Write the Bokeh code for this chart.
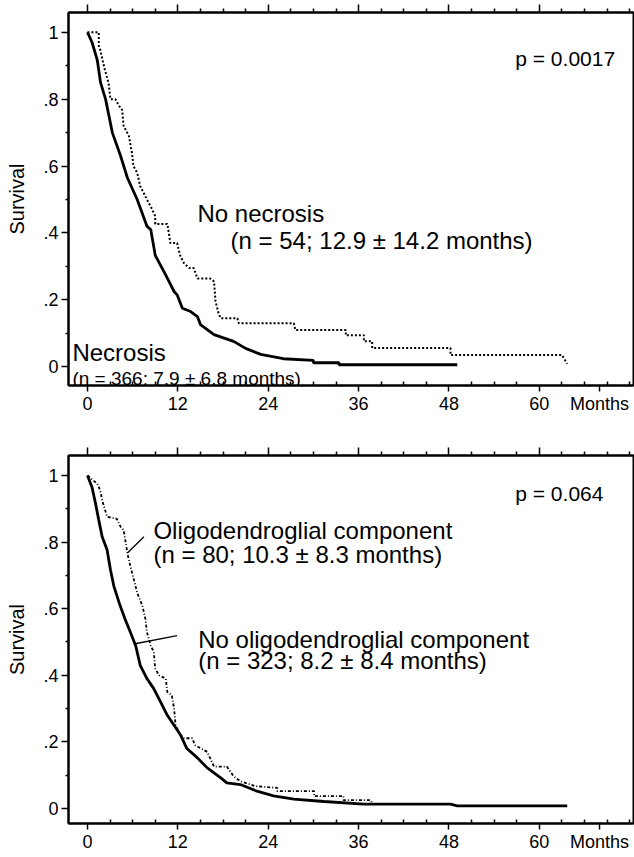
from bokeh.plotting import figure
from bokeh.models import LinearAxis, FixedTicker, Label, Range1d
from bokeh.layouts import column
from bokeh.embed import file_html
from bokeh.resources import INLINE

# ---------------- data ----------------
# Panel A: necrosis
nec_months = [0, 0.6, 1.3, 1.73, 2.4, 3.3, 4.4, 5.3, 6.6, 7.9, 8.4, 9.0, 10.4, 11.5,
              11.9, 12.6, 13.7, 14.6, 15.0, 16.8, 19.4, 21.0, 23.0, 26.0, 30.0, 30.0,
              33.4, 33.4, 49.1]
nec_surv = [1.0, 0.97, 0.917, 0.85, 0.80, 0.70, 0.63, 0.565, 0.50, 0.42, 0.41, 0.333,
            0.274, 0.225, 0.215, 0.175, 0.165, 0.15, 0.126, 0.096, 0.076, 0.055,
            0.037, 0.024, 0.019, 0.012, 0.012, 0.006, 0.006]

nonec_months = [0, 1.5, 1.5, 1.7, 2.2, 2.8, 3.05, 3.7, 4.2, 4.6, 4.8, 5.5, 5.9, 6.1, 6.6,
                7.0, 7.9, 8.6, 9.0, 9.0, 10.6, 10.8, 11.0, 11.9, 12.3, 12.8, 13.5, 14.1,
                14.6, 16.3, 16.8, 17.0, 17.4, 17.7, 19.9, 20.1, 27.4, 27.6, 34.3, 34.3,
                36.7, 36.7, 37.8, 37.8, 48.2, 48.2, 63.0, 63.7]
nonec_surv = [1.0, 1.0, 0.96, 0.947, 0.897, 0.848, 0.80, 0.80, 0.78, 0.768, 0.72, 0.69,
              0.64, 0.60, 0.58, 0.54, 0.50, 0.47, 0.45, 0.427, 0.427, 0.40, 0.37, 0.37,
              0.333, 0.31, 0.295, 0.295, 0.264, 0.264, 0.255, 0.196, 0.16, 0.145, 0.145,
              0.13, 0.13, 0.11, 0.11, 0.094, 0.094, 0.076, 0.076, 0.056, 0.056, 0.035,
              0.035, 0.009]

# Panel B: oligodendroglial component
nooligo_months = [0, 0.6, 1.06, 1.5, 1.95, 2.6, 3.05, 3.5, 4.2, 5.0, 5.7, 6.4, 7.0, 7.9,
                  8.8, 9.7, 10.6, 11.5, 12.35, 13.2, 14.6, 15.9, 17.7, 18.5, 20.3, 22.5,
                  24.7, 27.4, 31.4, 36.7, 48.2, 49.1, 63.7]
nooligo_surv = [1.0, 0.965, 0.917, 0.866, 0.816, 0.777, 0.717, 0.668, 0.618, 0.568, 0.529,
                0.489, 0.43, 0.39, 0.36, 0.32, 0.28, 0.25, 0.221, 0.18, 0.152, 0.122,
                0.092, 0.077, 0.072, 0.052, 0.038, 0.028, 0.021, 0.013, 0.013, 0.008, 0.008]

oligo_months = [0, 1.3, 1.7, 1.95, 2.6, 3.9, 4.4, 4.8, 5.3, 5.7, 6.15, 6.6, 7.3, 7.7, 7.9,
                8.4, 8.8, 9.0, 9.5, 10.4, 10.6, 11.2, 11.5, 11.7, 12.35, 12.8, 13.9, 14.3,
                15.9, 16.8, 18.5, 19.4, 20.3, 22.3, 25.2, 25.2, 30.1, 30.1, 34.0, 34.0,
                37.6, 37.8]
oligo_surv = [1.0, 0.975, 0.955, 0.926, 0.876, 0.87, 0.846, 0.836, 0.767, 0.727, 0.688,
              0.648, 0.608, 0.568, 0.529, 0.489, 0.47, 0.42, 0.40, 0.39, 0.35, 0.34, 0.30,
              0.25, 0.221, 0.211, 0.211, 0.19, 0.17, 0.126, 0.126, 0.097, 0.082, 0.067,
              0.062, 0.052, 0.052, 0.037, 0.037, 0.025, 0.025, 0.015]

x_major = [0, 12, 24, 36, 48, 60]
x_labels = ["0", "12", "24", "36", "48", "60"]
x_unit_pos = 68
x_unit_label = "Months"
x_minor = [3, 6, 9, 15, 18, 21, 27, 30, 33, 39, 42, 45, 51, 54, 57, 63, 66, 69, 72]
y_major = [0.0, 0.2, 0.4, 0.6, 0.8, 1.0]
y_minor = [0.1, 0.3, 0.5, 0.7, 0.9]
y_labels = ["0", ".2", ".4", ".6", ".8", "1"]

FONT = "Liberation Sans"


def make_panel(height, min_top, min_bottom, y_start, y_end):
    p = figure(width=634, height=height,
               x_range=Range1d(-2.52, 72.5), y_range=Range1d(y_start, y_end),
               output_backend="svg", toolbar_location=None,
               x_axis_location=None, y_axis_location=None,
               min_border_left=68, min_border_right=1,
               min_border_top=min_top, min_border_bottom=min_bottom)
    p.grid.visible = False
    p.background_fill_color = "white"
    p.border_fill_color = "white"
    p.outline_line_color = "black"
    p.outline_line_width = 2

    below = LinearAxis(ticker=FixedTicker(ticks=x_major + [x_unit_pos], minor_ticks=x_minor))
    below.major_label_overrides = dict(zip(x_major + [x_unit_pos], x_labels + [x_unit_label]))
    below.major_tick_out = 6
    below.major_tick_in = 0
    below.minor_tick_in = 4
    below.minor_tick_out = 0
    below.axis_line_width = 2
    below.major_tick_line_width = 1.5
    below.minor_tick_line_width = 1.5
    below.major_label_text_font = FONT
    below.major_label_text_font_size = "18px"
    below.major_label_text_color = "black"
    below.major_label_standoff = 2
    p.add_layout(below, "below")

    above = LinearAxis(ticker=FixedTicker(ticks=x_major, minor_ticks=x_minor))
    above.major_label_overrides = {v: "" for v in x_major}
    above.major_tick_out = 8
    above.major_tick_in = 0
    above.minor_tick_out = 4
    above.minor_tick_in = 0
    above.axis_line_width = 2
    above.major_tick_line_width = 1.5
    above.minor_tick_line_width = 1.5
    above.major_label_text_font_size = "1px"
    above.major_label_standoff = 0
    p.add_layout(above, "above")

    left = LinearAxis(ticker=FixedTicker(ticks=y_major, minor_ticks=y_minor))
    left.major_label_overrides = dict(zip(y_major, y_labels))
    left.major_tick_out = 7
    left.major_tick_in = 0
    left.minor_tick_out = 3
    left.minor_tick_in = 0
    left.axis_line_width = 2
    left.major_tick_line_width = 1.5
    left.minor_tick_line_width = 1.5
    left.major_label_text_font = FONT
    left.major_label_text_font_size = "18px"
    left.major_label_text_color = "black"
    left.major_label_standoff = 3
    left.axis_label = "Survival"
    left.axis_label_text_font = FONT
    left.axis_label_text_font_size = "20px"
    left.axis_label_text_font_style = "normal"
    left.axis_label_text_color = "black"
    left.axis_label_standoff = 12
    p.add_layout(left, "left")
    return p


def lbl(p, x, y, text, size="24px"):
    p.add_layout(Label(x=x, y=y, text=text, text_font=FONT, text_font_size=size,
                       text_baseline="alphabetic", text_align="left",
                       text_color="black"))


# ---------------- panel A ----------------
pa = make_panel(416, 12, 28, -0.056, 1.059)
pa.line(nonec_months, nonec_surv, line_color="black", line_width=2, line_dash="2 2")
pa.line(nec_months, nec_surv, line_color="black", line_width=2.8)
lbl(pa, 56.8, 0.920, "p = 0.0017", "21px")
lbl(pa, 14.6, 0.457, "No necrosis")
lbl(pa, 19.0, 0.377, "(n = 54; 12.9 \u00b1 14.2 months)")
lbl(pa, -2.0, 0.042, "Necrosis")
lbl(pa, -2.0, -0.036, "(n = 366; 7.9 \u00b1 6.8 months)", "19px")

# ---------------- panel B ----------------
pb = make_panel(438, 39, 28, -0.045, 1.060)
pb.line(oligo_months, oligo_surv, line_color="black", line_width=1.8, line_dash="3 2 1 2")
pb.line(nooligo_months, nooligo_surv, line_color="black", line_width=2.8)
# leader lines from labels to curves
pb.segment(x0=[5.3, 6.15], y0=[0.767, 0.494], x1=[7.5, 11.9], y1=[0.816, 0.519],
           line_color="black", line_width=1.3)
lbl(pb, 56.8, 0.947, "p = 0.064", "21px")
lbl(pb, 8.76, 0.836, "Oligodendroglial component")
lbl(pb, 8.76, 0.762, "(n = 80; 10.3 \u00b1 8.3 months)")
lbl(pb, 14.7, 0.509, "No oligodendroglial component")
lbl(pb, 14.7, 0.444, "(n = 323; 8.2 \u00b1 8.4 months)")

layout = column(pa, pb, spacing=0)

with open("out.html", "w") as f:
    f.write(file_html(layout, INLINE))
